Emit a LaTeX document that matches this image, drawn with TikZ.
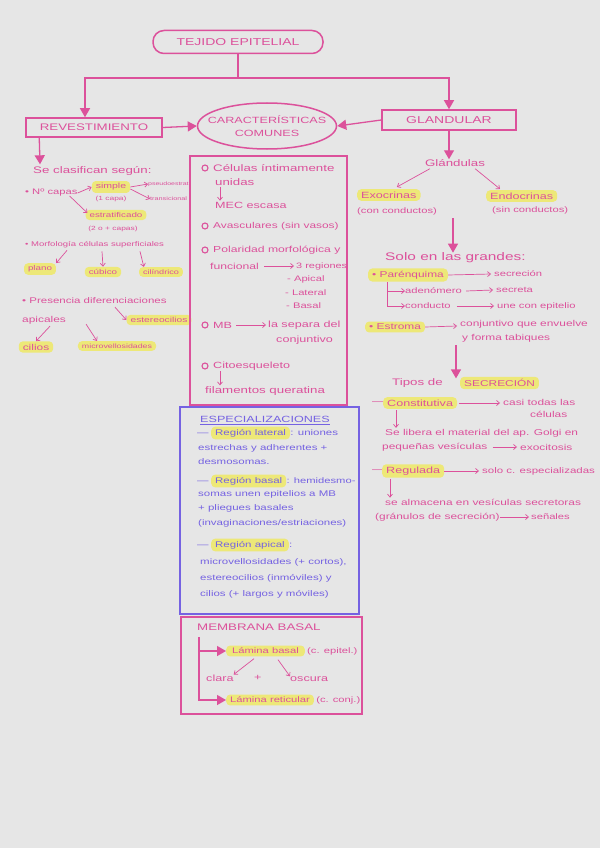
\documentclass[tikz,border=0pt]{standalone}
\usepackage{fontspec}
\setmainfont{Liberation Sans}[FakeStretch=1.4]
\usetikzlibrary{arrows.meta,shapes.geometric,calc}
\definecolor{bgc}{HTML}{E6E6E6}
\definecolor{pk}{HTML}{DC519B}
\definecolor{hly}{HTML}{EDE878}
\definecolor{pu}{HTML}{7562E2}
\newcommand{\fsz}[1]{\fontsize{#1}{#1}\selectfont}
\begin{document}
\begin{tikzpicture}[x=1pt,y=-1pt,
  t/.style={text=pk, inner sep=0pt, anchor=west},
  tp/.style={text=pu, inner sep=0pt, anchor=west},
  hl/.style={fill=hly, rounded corners=4pt, inner xsep=4pt, inner ysep=2.5pt, text=pk, anchor=west},
  hlp/.style={hl, text=pu},
  big/.style={draw=pk, line width=1.3pt, -{Triangle[length=9pt,width=10pt]}},
  sm/.style={draw=pk, line width=0.7pt, -{Straight Barb[length=3pt,width=5pt]}},
  box/.style={draw=pk, line width=1.5pt},
  bul/.style={circle, draw=pk, line width=1.1pt, minimum size=6pt, inner sep=0pt}]
\fill[bgc] (0,0) rectangle (600,848);
\useasboundingbox (0,0) rectangle (600,848);

% ---------- top ----------
\node[box, rounded corners=11pt, minimum width=170pt, minimum height=23pt, text=pk, font=\fsz{10}] (title) at (238,42) {TEJIDO EPITELIAL};
\coordinate (split) at (238,78);
\node[box, minimum width=136pt, minimum height=19pt, text=pk, font=\fsz{9.5}] (rev) at (94,127.5) {REVESTIMIENTO};
\node[box, minimum width=134pt, minimum height=20pt, text=pk, font=\fsz{10}] (glan) at (449,120) {GLANDULAR};
\node[draw=pk, line width=1.5pt, ellipse, minimum width=139pt, minimum height=46pt, inner sep=0pt] (car) at (267,126) {};
\node[text=pk, inner sep=0pt, align=center, font=\fontsize{9}{12.5}\selectfont] (cartxt) at (car.center) {CARACTERÍSTICAS\\COMUNES};
\draw[pk, line width=1.3pt] (title.south) -- (split);
\draw[big] (split) -| ($(rev.north)+(-9,0)$);
\draw[big] (split) -| (glan.north);
\draw[big] (rev.east) -- (car.west);
\draw[big] (glan.west) -- (car.east);

% ---------- left column ----------
\node[t, font=\fsz{9.5}] (clas) at (33,171) {Se clasifican según:};
\draw[big] ($(rev.south west)+(14,0)$) -- ($(clas.north west)+(7,-2)$);
\node[t, font=\fsz{8}] (ncap) at (25,193) {• Nº capas};
\node[hl, font=\fsz{7.5}, anchor=center] (simple) at (111,187) {simple};
\node[t, font=\fsz{6}, anchor=center] (capa1) at (111,199) {(1 capa)};
\node[t, font=\fsz{5}] (pseudo) at (148,184) {pseudoestrat.};
\node[t, font=\fsz{5.2}] (trans) at (150,199) {transicional};
\node[hl, font=\fsz{7}, anchor=center] (estrat) at (116,215) {estratificado};
\node[t, font=\fsz{6}, anchor=center] (capas2) at (113,229) {(2 o + capas)};
\draw[sm] (ncap.east) -- (simple.west);
\draw[sm] (simple.east) -- (pseudo.west);
\draw[sm] ($(simple.east)+(0,2)$) -- (trans.west);
\draw[sm] ($(ncap.east)+(-8,3)$) -- ($(estrat.west)+(2,-2)$);

\node[t, font=\fsz{6.8}] (morf) at (25,245) {• Morfología células superficiales};
\node[hl, font=\fsz{7}, anchor=center] (plano) at (40,269) {plano};
\node[hl, font=\fsz{7}, anchor=center] (cub) at (103,272) {cúbico};
\node[hl, font=\fsz{6.5}, anchor=center] (cil) at (161,272) {cilíndrico};
\draw[sm] ($(morf.south west)+(42,2)$) -- (plano.north east);
\draw[sm] ($(morf.south west)+(77,3)$) -- (cub.north);
\draw[sm] ($(morf.south west)+(115,3)$) -- ($(cil.north west)+(5,0)$);

\node[t, font=\fsz{8.2}] (pres) at (22,301) {• Presencia diferenciaciones};
\node[t, font=\fsz{8.5}] (apic) at (22,320) {apicales};
\node[hl, font=\fsz{7.3}, anchor=center] (ester) at (159,320) {estereocilios};
\node[hl, font=\fsz{8.5}, anchor=center] (cilios) at (36,347) {cilios};
\node[hl, font=\fsz{6.3}, anchor=center] (micro) at (117,346) {microvellosidades};
\draw[sm] ($(pres.south west)+(93,3)$) -- (ester.west);
\draw[sm] ($(apic.south west)+(28,2)$) -- (cilios.north);
\draw[sm] ($(apic.south east)+(20,0)$) -- ($(micro.north)+(-20,0)$);

% ---------- center box ----------
\node[box, minimum width=157pt, minimum height=249pt] (cbox) at (268.5,280.5) {};
\node[bul] at (205,168) {};
\node[t, font=\fsz{9.5}] (c1) at (213,168) {Células íntimamente};
\node[t, font=\fsz{9.5}] (c1b) at (215,182) {unidas};
\node[t, font=\fsz{9}] (mec) at (215,205) {MEC escasa};
\draw[sm] ($(c1b.south west)+(5,1)$) -- ($(mec.north west)+(5,-1)$);
\node[bul] at (205,226) {};
\node[t, font=\fsz{8.5}] (avas) at (213,226) {Avasculares (sin vasos)};
\node[bul] at (205,250) {};
\node[t, font=\fsz{8.7}] (pol) at (213,250) {Polaridad morfológica y};
\node[t, font=\fsz{8.7}] (func) at (210,266) {funcional};
\node[t, font=\fsz{7.8}] (reg) at (296,266) {3 regiones};
\draw[sm] ($(func.east)+(5,0)$) -- ($(reg.west)+(-2,0)$);
\node[t, font=\fsz{8}] (ap) at (287,279) {- Apical};
\node[t, font=\fsz{8}] (lat) at (285,293) {- Lateral};
\node[t, font=\fsz{8}] (bas) at (286,306) {- Basal};
\node[bul] at (205,325) {};
\node[t, font=\fsz{9}] (mb) at (213,325) {MB};
\node[t, font=\fsz{9}] (sep) at (268,325) {la separa del};
\draw[sm] ($(mb.east)+(4,0)$) -- ($(sep.west)+(-2,0)$);
\node[t, font=\fsz{9}] (conj) at (276,340) {conjuntivo};
\node[bul] at (205,366) {};
\node[t, font=\fsz{9}] (cito) at (213,366) {Citoesqueleto};
\node[t, font=\fsz{9.5}] (fil) at (205,391) {filamentos queratina};
\draw[sm] ($(cito.south west)+(7,1)$) -- ($(fil.north west)+(15,-1)$);

% ---------- purple box ----------
\node[draw=pu, line width=1.5pt, minimum width=179pt, minimum height=207pt] (pbox) at (269.5,510.5) {};
\node[tp, font=\fsz{9}] (esp) at (200,419) {ESPECIALIZACIONES};
\draw[pu, line width=0.8pt] ($(esp.south west)+(0,2)$) -- ($(esp.south east)+(0,2)$);
\node[tp, font=\fsz{8.2}] (dl) at (197,434) {—};
\node[hlp, font=\fsz{8.2}] (rl) at (211,433) {Región lateral};
\node[tp, font=\fsz{8.2}] at (rl.east) {: uniones};
\node[tp, font=\fsz{8.2}] at (198,448) {estrechas y adherentes +};
\node[tp, font=\fsz{8.2}] at (198,462) {desmosomas.};
\node[tp, font=\fsz{8.2}] (db) at (197,482) {—};
\node[hlp, font=\fsz{8.2}] (rb) at (211,481) {Región basal};
\node[tp, font=\fsz{8}] at (rb.east) {: hemidesmo-};
\node[tp, font=\fsz{8.2}] at (198,494) {somas unen epitelios a MB};
\node[tp, font=\fsz{8.2}] at (198,508) {+ pliegues basales};
\node[tp, font=\fsz{8.2}] at (198,523) {(invaginaciones/estriaciones)};
\node[tp, font=\fsz{8.2}] (da) at (197,546) {—};
\node[hlp, font=\fsz{8.2}] (ra) at (211,545) {Región apical};
\node[tp, font=\fsz{8.2}] at (ra.east) {:};
\node[tp, font=\fsz{8.2}] at (200,562) {microvellosidades (+ cortos),};
\node[tp, font=\fsz{8.2}] at (200,578) {estereocilios (inmóviles) y};
\node[tp, font=\fsz{8.2}] at (200,594) {cilios (+ largos y móviles)};

% ---------- membrana basal ----------
\node[box, minimum width=181pt, minimum height=97pt] (mbox) at (271.5,665.5) {};
\node[t, font=\fsz{9.5}] (mbt) at (197,627) {MEMBRANA BASAL};
\node[hl, font=\fsz{8}, inner xsep=6pt] (lb) at (226,651) {Lámina basal};
\node[t, font=\fsz{8}] at ($(lb.east)+(2,0)$) {(c. epitel.)};
\node[t, font=\fsz{9}] (clara) at (206,678) {clara};
\node[t, font=\fsz{9}] (plus) at (254,678) {+};
\node[t, font=\fsz{9}] (osc) at (290,679) {oscura};
\node[hl, font=\fsz{8}] (lr) at (226,700) {Lámina reticular};
\node[t, font=\fsz{8}] at ($(lr.east)+(2,0)$) {(c. conj.)};
\coordinate (mbs) at (199,637);
\draw[big] (mbs) |- (lb.west);
\draw[big] (mbs) |- (lr.west);
\draw[sm] ($(lb.south west)+(28,2)$) -- (clara.north east);
\draw[sm] ($(lb.south west)+(52,3)$) -- (osc.north west);

% ---------- right column ----------
\node[t, font=\fsz{9.5}, anchor=center] (gla) at (455,163) {Glándulas};
\draw[big] (glan.south) -- (glan.south |- gla.north);
\node[hl, font=\fsz{9}] (exo) at (357,195) {Exocrinas};
\node[t, font=\fsz{8}] (exo2) at (357,211) {(con conductos)};
\node[hl, font=\fsz{9}] (endo) at (486,196) {Endocrinas};
\node[t, font=\fsz{8}] (endo2) at (492,210) {(sin conductos)};
\draw[sm] ($(gla.south west)+(5,2)$) -- ($(exo.north)+(8,-2)$);
\draw[sm] ($(gla.south east)+(-10,2)$) -- ($(endo.north west)+(14,-1)$);
\coordinate (g2) at (453,218);
\node[t, font=\fsz{11}] (solo) at (385,258) {Solo en las grandes:};
\draw[big] (g2) -- (g2 |- solo.north);

\node[hl, font=\fsz{8.5}] (par) at (368,275) {• Parénquima};
\node[t, font=\fsz{8}] (secr) at (494,274) {secreción};
\draw[sm] (par.east) -- ($(secr.west)+(-3,0)$);
\coordinate (brk) at (387,282);
\node[t, font=\fsz{8}] (aden) at (405,291) {adenómero};
\node[t, font=\fsz{8}] (secreta) at (496,290) {secreta};
\node[t, font=\fsz{8}] (cond) at (405,306) {conducto};
\node[t, font=\fsz{8}] (une) at (497,306) {une con epitelio};
\draw[sm] (brk) |- (aden.west);
\draw[sm] (brk) |- (cond.west);
\draw[sm] ($(aden.east)+(4,0)$) -- ($(secreta.west)+(-3,0)$);
\draw[sm] ($(cond.east)+(6,0)$) -- ($(une.west)+(-3,0)$);
\node[hl, font=\fsz{8.5}] (estr) at (365,327) {• Estroma};
\node[t, font=\fsz{8.5}] (envu) at (460,324) {conjuntivo que envuelve};
\node[t, font=\fsz{8.5}] (tab) at (462,338) {y forma tabiques};
\draw[sm] (estr.east) -- ($(envu.west)+(-3,2)$);
\coordinate (e2) at (456,345);
\node[t, font=\fsz{9.5}] (tipos) at (392,383) {Tipos de};
\node[hl, font=\fsz{8.5}] (secc) at (460,383) {SECRECIÓN};
\draw[big] (e2) -- (e2 |- tipos.north);

\node[t, font=\fsz{9}] (dc) at (372,403) {—};
\node[hl, font=\fsz{9}] (cons) at (383,403) {Constitutiva};
\node[t, font=\fsz{8.5}] (casi) at (503,402) {casi todas las};
\node[t, font=\fsz{8.5}] (celu) at (530,414) {células};
\draw[sm] ($(cons.east)+(2,0)$) -- ($(casi.west)+(-3,1)$);
\node[t, font=\fsz{8.5}] (lib) at (385,433) {Se libera el material del ap. Golgi en};
\node[t, font=\fsz{8.5}] (peq) at (382,447) {pequeñas vesículas};
\node[t, font=\fsz{8.5}] (exoc) at (520,447) {exocitosis};
\draw[sm] ($(cons.south west)+(13,1)$) -- ($(lib.north west)+(11,-1)$);
\draw[sm] ($(peq.east)+(5,0)$) -- ($(exoc.west)+(-3,0)$);
\node[t, font=\fsz{9}] (dr) at (372,471) {—};
\node[hl, font=\fsz{9}] (regu) at (382,471) {Regulada};
\node[t, font=\fsz{8.2}] (solo2) at (482,471) {solo c. especializadas};
\draw[sm] (regu.east) -- ($(solo2.west)+(-3,0)$);
\node[t, font=\fsz{8.5}] (alm) at (385,502) {se almacena en vesículas secretoras};
\node[t, font=\fsz{8.5}] (gran) at (375,517) {(gránulos de secreción)};
\node[t, font=\fsz{8}] (sen) at (531,517) {señales};
\draw[sm] ($(regu.south west)+(8,1)$) -- ($(alm.north west)+(5,-1)$);
\draw[sm] (gran.east) -- ($(sen.west)+(-2,0)$);
\end{tikzpicture}
\end{document}
